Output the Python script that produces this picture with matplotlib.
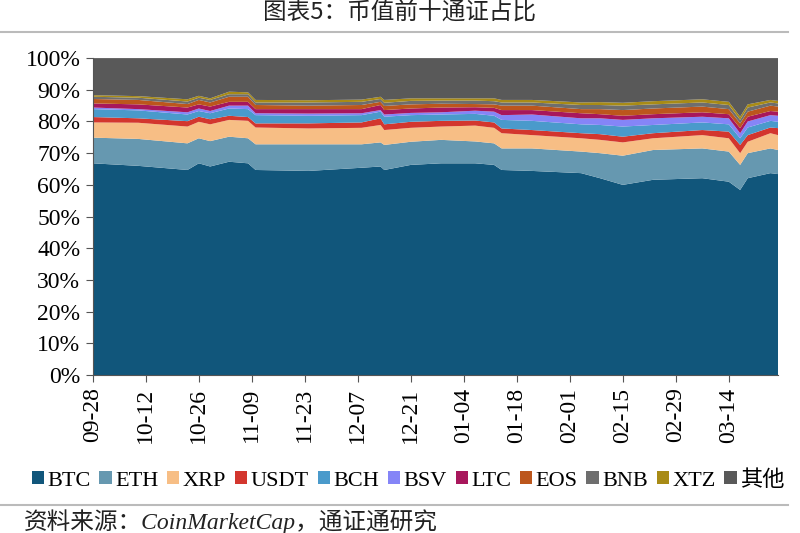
import numpy as np
import pandas as pd
import matplotlib
matplotlib.use('Agg')
import matplotlib.pyplot as plt
import matplotlib.dates as mdates
from matplotlib.ticker import PercentFormatter

plt.rcParams['font.family'] = ['Liberation Serif', 'Noto Sans CJK SC', 'DejaVu Sans']

# sample dates (2019-09-28 .. 2020-03-27)
dates = pd.to_datetime([
    '2019-09-28', '2019-10-10', '2019-10-23', '2019-10-26', '2019-10-29', '2019-11-03',
    '2019-11-08', '2019-11-10', '2019-11-24', '2019-12-08', '2019-12-13', '2019-12-14',
    '2019-12-21', '2019-12-29', '2020-01-07', '2020-01-12', '2020-01-14', '2020-01-22',
    '2020-02-04', '2020-02-09', '2020-02-15', '2020-02-23', '2020-03-07', '2020-03-14',
    '2020-03-17', '2020-03-19', '2020-03-25', '2020-03-27'])

btc = [66.8, 66.0, 64.7, 66.8, 65.8, 67.3, 66.8, 64.7, 64.4, 65.4, 65.8, 64.7, 66.3, 66.8,
       66.8, 66.3, 64.7, 64.4, 63.7, 62.1, 60.0, 61.6, 62.1, 61.0, 58.4, 62.1, 63.7, 63.4]
eth = [8.1, 8.5, 8.4, 7.9, 8.0, 7.9, 7.9, 8.1, 8.4, 7.4, 7.6, 7.9, 7.3, 7.4,
       6.9, 6.8, 6.8, 7.1, 6.8, 7.9, 9.2, 9.4, 9.4, 9.5, 7.9, 7.9, 7.8, 7.6]
xrp = [4.8, 5.1, 5.3, 5.2, 5.3, 5.3, 5.5, 5.3, 5.0, 5.2, 5.5, 4.7, 4.4, 4.2,
       5.0, 4.9, 4.8, 4.2, 4.2, 4.2, 4.2, 3.7, 4.2, 4.2, 3.7, 3.6, 4.8, 4.7]
usdt = [1.7, 1.4, 1.7, 1.6, 1.6, 1.3, 1.2, 1.3, 1.6, 1.7, 2.1, 1.8, 1.9, 1.8,
        1.6, 1.7, 1.5, 1.6, 1.6, 1.8, 1.8, 1.6, 1.6, 2.1, 2.6, 2.1, 1.8, 2.2]
bch = [2.5, 2.5, 2.1, 1.8, 1.9, 2.3, 2.5, 2.6, 2.4, 2.3, 2.1, 2.4, 2.1, 2.0,
       2.1, 2.1, 2.7, 2.9, 2.8, 2.9, 3.2, 2.6, 2.4, 2.3, 2.1, 2.4, 2.1, 2.0]
bsv = [0.5, 0.4, 0.7, 0.8, 0.7, 0.9, 1.1, 0.6, 0.7, 0.6, 0.5, 0.7, 0.7, 0.7,
       1.0, 1.3, 1.5, 2.0, 1.9, 2.1, 2.1, 2.1, 1.8, 1.9, 1.6, 1.9, 1.8, 1.9]
ltc = [1.3, 1.5, 1.5, 1.3, 1.4, 1.2, 1.2, 1.3, 1.4, 1.3, 1.6, 1.4, 1.4, 1.5,
       1.1, 1.2, 1.6, 1.4, 1.6, 1.3, 1.3, 1.3, 1.4, 1.3, 1.6, 1.5, 1.3, 1.3]
eos = [1.4, 1.4, 1.1, 1.4, 1.3, 1.6, 1.6, 1.3, 1.1, 1.3, 1.0, 1.3, 1.3, 1.2,
       1.0, 1.1, 1.4, 1.4, 1.3, 1.6, 1.8, 1.8, 1.8, 1.6, 1.5, 1.6, 1.7, 1.6]
bnb = [0.7, 0.7, 0.8, 0.7, 0.8, 0.8, 0.8, 0.8, 1.0, 1.0, 0.9, 1.0, 1.1, 1.0,
       1.1, 1.0, 1.0, 1.0, 1.3, 1.3, 1.4, 1.3, 1.3, 1.3, 1.1, 1.3, 1.0, 1.0]
xtz = [0.5, 0.5, 0.7, 0.6, 0.5, 0.8, 0.6, 0.8, 0.7, 0.7, 0.7, 0.9, 0.8, 0.7,
       0.7, 0.9, 0.8, 0.8, 0.8, 0.9, 0.9, 1.0, 1.0, 1.0, 1.0, 1.0, 0.8, 0.8]
others = [11.7, 12.0, 13.0, 11.9, 12.7, 10.6, 10.8, 13.2, 13.3, 13.1, 12.2, 13.2, 12.7, 12.7,
          12.7, 12.7, 13.2, 13.2, 14.0, 13.9, 14.1, 13.6, 13.0, 13.8, 18.5, 14.6, 13.2, 13.5]

labels = ['BTC', 'ETH', 'XRP', 'USDT', 'BCH', 'BSV', 'LTC', 'EOS', 'BNB', 'XTZ', '其他']
colors = ['#11567B', '#6698B0', '#F7BE85', '#D3362E', '#4A9ACB', '#8585F7',
          '#A8175C', '#BC561C', '#6E6E6E', '#A88B16', '#595959']

tick_dates = pd.date_range('2019-09-28', '2020-03-14', freq='14D')

fig = plt.figure(figsize=(8, 5.33), dpi=100)
ax = fig.add_axes([0.116, 0.2964, 0.8565, 0.5946])

ax.stackplot(dates, btc, eth, xrp, usdt, bch, bsv, ltc, eos, bnb, xtz, others,
             labels=labels, colors=colors, linewidth=0)

ax.set_xlim(dates[0], dates[-1])
ax.set_ylim(0, 100)
ax.set_yticks(np.arange(0, 101, 10))
ax.yaxis.set_major_formatter(PercentFormatter(decimals=0))
ax.set_xticks(tick_dates)
ax.xaxis.set_major_formatter(mdates.DateFormatter('%m-%d'))
ax.tick_params(axis='x', rotation=90, labelsize=17, direction='out', length=5,
               color='#555555', pad=4)
ax.tick_params(axis='y', labelsize=17, direction='out', length=5, color='#555555', pad=4)
for s in ['top', 'right']:
    ax.spines[s].set_visible(False)
for s in ['left', 'bottom']:
    ax.spines[s].set_color('#555555')

ax.legend(loc='center', bbox_to_anchor=(0.51, 0.099), bbox_transform=fig.transFigure,
          ncol=11, frameon=False, fontsize=16, handlelength=0.55, handleheight=0.55,
          handletextpad=0.15, columnspacing=0.4, borderaxespad=0)

# title and source note
fig.text(0.5, 0.975, '图表5：币值前十通证占比', ha='center', va='center', fontsize=17,
         family=['Noto Sans CJK SC'], color='#222222')
fig.text(0.03, 0.022, '资料来源：CoinMarketCap，通证通研究', ha='left', va='center',
         fontsize=17, style='italic', family=['Liberation Serif', 'Noto Sans CJK SC'],
         color='#222222')
fig.add_artist(plt.Line2D([0, 0.985], [0.94, 0.94], color='#BBBBBB', lw=1.5))
fig.add_artist(plt.Line2D([0, 0.985], [0.053, 0.053], color='#BBBBBB', lw=1.5))

fig.savefig('out.png', dpi=100)
